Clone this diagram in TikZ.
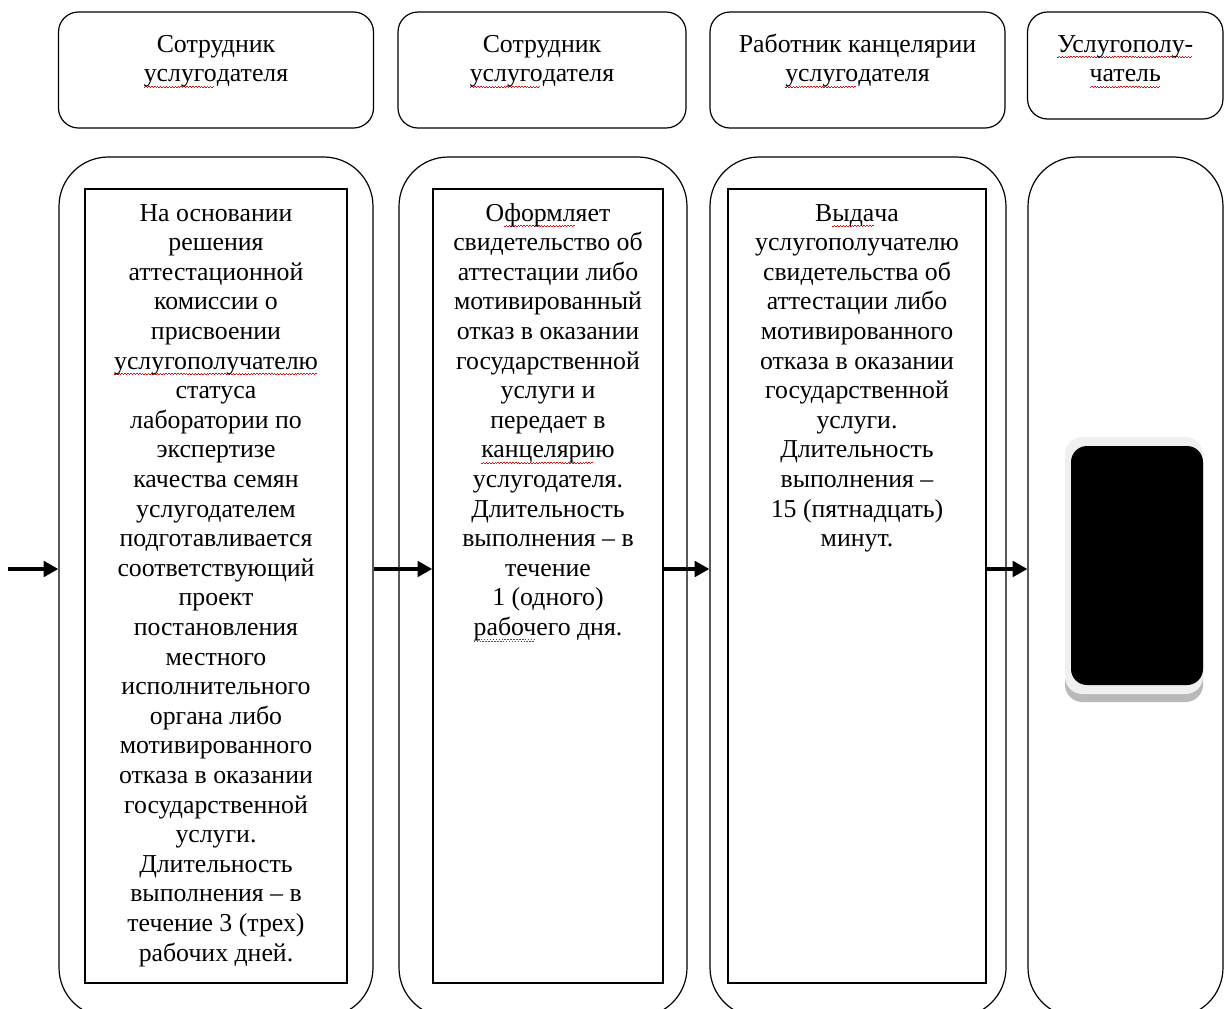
\documentclass[tikz,border=0pt]{standalone}
\usepackage{fontspec}
\setmainfont{Liberation Serif}
\usetikzlibrary{arrows.meta}
\newsavebox\rwbox
\newcommand\rw[1]{\sbox\rwbox{#1}\rlap{\leaders\hbox{{\color{red}\rule[-4.6pt]{1.1pt}{0.7pt}\rule[-3.7pt]{1.1pt}{0.7pt}}}\hskip\wd\rwbox}\usebox\rwbox}
\begin{document}
\begin{tikzpicture}[x=0.75pt,y=-0.75pt,
  hbox/.style={draw, line width=0.9pt, rounded corners=15pt, inner sep=0pt},
  obox/.style={draw, line width=0.9pt, rounded corners=37pt, inner sep=0pt, minimum height=645pt},
  ibox/.style={draw, line width=1.1pt, inner sep=0pt, minimum height=595.5pt},
  txt/.style={font=\fontsize{19.35}{22.2}\selectfont, align=center, anchor=base, inner sep=0pt},
  arr/.style={line width=3.7pt, -{Triangle[length=11pt,width=11.5pt]}},
]
\useasboundingbox (0,0) rectangle (1225,1008);
\clip (0,0) rectangle (1225,1008);
\fill[white] (0,0) rectangle (1225,1008);

% header boxes
\node[hbox, minimum width=236.25pt, minimum height=87pt] (h1) at (216,70) {};
\node[hbox, minimum width=216pt, minimum height=87pt] (h2) at (542,70) {};
\node[hbox, minimum width=221.25pt, minimum height=87pt] (h3) at (857.5,70) {};
\node[hbox, minimum width=146.6pt, minimum height=80.25pt] (h4) at (1125.25,65.5) {};

% (anchor base = baseline of the last line)
\node[txt] (t1) at (216,81.6) {Сотрудник\\\rw{услуго}дателя};
\node[txt] (t2) at (542,81.6) {Сотрудник\\\rw{услуго}дателя};
\node[txt] (t3) at (857.5,81.6) {Работник канцелярии\\\rw{услуго}дателя};
\node[txt] (t4) at (1125.25,81.6) {\rw{Услугополу-}\\\rw{чатель}};

% lane boxes
\node[obox, minimum width=235.5pt] (o1) at (216,587) {};
\node[obox, minimum width=216pt] (o2) at (543,587) {};
\node[obox, minimum width=222pt] (o3) at (858,587) {};
\node[obox, minimum width=146.25pt] (o4) at (1125.5,587) {};

% inner boxes
\node[ibox, minimum width=196.5pt] (i1) at (216,586) {};
\node[ibox, minimum width=172.5pt] (i2) at (548,586) {};
\node[ibox, minimum width=193.5pt] (i3) at (857,586) {};

\node[txt] (b1) at (216,961) {На основании\\решения\\аттестационной\\комиссии о\\присвоении\\\rw{услугополучателю}\\статуса\\лаборатории по\\экспертизе\\качества семян\\услугодателем\\подготавливается\\соответствующий\\проект\\постановления\\местного\\исполнительного\\органа либо\\мотивированного\\отказа в оказании\\государственной\\услуги.\\Длительность\\выполнения – в\\течение 3 (трех)\\рабочих дней.};
\node[txt] (b2) at (548,635.4) {О\rw{формл}яет\\свидетельство об\\аттестации либо\\мотивированный\\отказ в оказании\\государственной\\услуги и\\передает в\\\rw{канцеляри}ю\\услугодателя.\\Длительность\\выполнения – в\\течение\\1 (одного)\\\rw{рабоч}его дня.};
\node[txt] (b3) at (857,546.6) {В\rw{ыда}ча\\услугополучателю\\свидетельства об\\аттестации либо\\мотивированного\\отказа в оказании\\государственной\\услуги.\\Длительность\\выполнения –\\15 (пятнадцать)\\минут.};

% black block in last lane
\fill[gray!55, rounded corners=13pt] (1065,445) rectangle (1203,702);
\fill[gray!12, rounded corners=13pt] (1065,437) rectangle (1203,694);
\fill[black, rounded corners=12pt] (1071,446) rectangle (1203,685);

% arrows
\coordinate (a0) at (8,569);
\draw[arr] (a0) -- (a0 -| o1.west);
\draw[arr] (a0 -| o1.east) -- (a0 -| i2.west);
\draw[arr] (a0 -| i2.east) -- (a0 -| o3.west);
\draw[arr] (a0 -| i3.east) -- (a0 -| o4.west);
\end{tikzpicture}
\end{document}
